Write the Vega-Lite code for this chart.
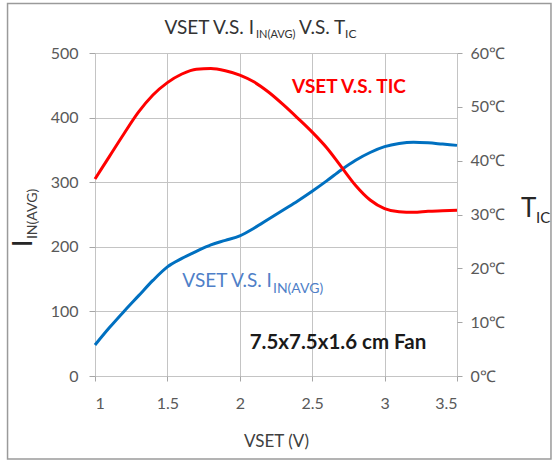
{
  "$schema": "https://vega.github.io/schema/vega-lite/v6.json",
  "width": 362,
  "height": 323,
  "autosize": {"type": "none"},
  "padding": {"left": 95, "top": 53, "right": 96, "bottom": 85},
  "background": "white",
  "config": {
    "view": {"stroke": null},
    "font": "Lato",
    "axis": {
      "labelFont": "Lato",
      "titleFont": "Lato",
      "labelColor": "#595959",
      "labelFontSize": 16,
      "gridColor": "#c4c4c4",
      "gridWidth": 1,
      "tickColor": "#a6a6a6",
      "domainColor": "#bfbfbf"
    }
  },
  "data": {
    "values": [
      {"vset": 1.0, "current": 48, "temp": 36.6},
      {"vset": 1.1, "current": 75, "temp": 40.8},
      {"vset": 1.2, "current": 100, "temp": 45.0},
      {"vset": 1.3, "current": 124, "temp": 49.0},
      {"vset": 1.4, "current": 148, "temp": 52.2},
      {"vset": 1.5, "current": 169, "temp": 54.5},
      {"vset": 1.6, "current": 182, "temp": 56.1},
      {"vset": 1.7, "current": 193, "temp": 57.0},
      {"vset": 1.8, "current": 203, "temp": 57.1},
      {"vset": 1.9, "current": 210, "temp": 56.7},
      {"vset": 2.0, "current": 217, "temp": 55.9},
      {"vset": 2.1, "current": 229, "temp": 54.6},
      {"vset": 2.2, "current": 243, "temp": 52.7},
      {"vset": 2.3, "current": 257, "temp": 50.4},
      {"vset": 2.4, "current": 271, "temp": 47.9},
      {"vset": 2.5, "current": 286, "temp": 45.3},
      {"vset": 2.6, "current": 302, "temp": 42.4},
      {"vset": 2.7, "current": 319, "temp": 38.9},
      {"vset": 2.8, "current": 334, "temp": 35.4},
      {"vset": 2.9, "current": 346, "temp": 32.7},
      {"vset": 3.0, "current": 355, "temp": 31.1},
      {"vset": 3.1, "current": 360, "temp": 30.5},
      {"vset": 3.2, "current": 362, "temp": 30.4},
      {"vset": 3.3, "current": 361, "temp": 30.6},
      {"vset": 3.4, "current": 359, "temp": 30.7},
      {"vset": 3.5, "current": 357, "temp": 30.8}
    ]
  },
  "layer": [
    {
      "layer": [
        {
          "mark": {"type": "line", "color": "#0070c0", "strokeWidth": 3, "interpolate": "monotone"},
          "encoding": {
            "x": {
              "field": "vset", "type": "quantitative",
              "scale": {"domain": [1, 3.5], "nice": false, "zero": false},
              "axis": {
                "values": [1, 1.5, 2, 2.5, 3, 3.5],
                "format": "~g",
                "grid": true,
                "domain": false,
                "tickSize": 5,
                "labelPadding": 14,
                "title": "VSET (V)",
                "titleFontSize": 17,
                "titleFontWeight": "normal",
                "titleColor": "#404040",
                "titlePadding": 22
              }
            },
            "y": {
              "field": "current", "type": "quantitative",
              "scale": {"domain": [0, 500], "nice": false},
              "axis": {
                "values": [0, 100, 200, 300, 400, 500],
                "grid": true,
                "domain": false,
                "tickSize": 6,
                "labelPadding": 11,
                "title": null
              }
            }
          }
        },
        {
          "data": {"values": [{}]},
          "mark": {"type": "rect", "fillOpacity": 0, "stroke": "#9a9a9a", "strokeWidth": 1.5},
          "encoding": {
            "x": {"datum": 0.396, "type": "quantitative", "scale": {"domain": [1, 3.5], "nice": false, "zero": false}},
            "x2": {"datum": 4.149},
            "y": {"datum": 576.6, "type": "quantitative", "scale": {"domain": [0, 500], "nice": false}},
            "y2": {"datum": -128.5}
          }
        },
        {
          "data": {"values": [{}]},
          "mark": {"type": "text", "text": "VSET V.S. I", "align": "right", "baseline": "alphabetic", "fontSize": 19, "color": "#333333"},
          "encoding": {
            "x": {"datum": 2.098, "type": "quantitative", "scale": {"domain": [1, 3.5], "nice": false, "zero": false}},
            "y": {"datum": 529.4, "type": "quantitative", "scale": {"domain": [0, 500], "nice": false}}
          }
        },
        {
          "data": {"values": [{}]},
          "mark": {"type": "text", "text": "IN(AVG)", "align": "left", "baseline": "alphabetic", "fontSize": 11, "color": "#333333"},
          "encoding": {
            "x": {"datum": 2.112, "type": "quantitative", "scale": {"domain": [1, 3.5], "nice": false, "zero": false}},
            "y": {"datum": 523.2, "type": "quantitative", "scale": {"domain": [0, 500], "nice": false}}
          }
        },
        {
          "data": {"values": [{}]},
          "mark": {"type": "text", "text": "V.S. T", "align": "left", "baseline": "alphabetic", "fontSize": 19, "color": "#333333"},
          "encoding": {
            "x": {"datum": 2.409, "type": "quantitative", "scale": {"domain": [1, 3.5], "nice": false, "zero": false}},
            "y": {"datum": 529.4, "type": "quantitative", "scale": {"domain": [0, 500], "nice": false}}
          }
        },
        {
          "data": {"values": [{}]},
          "mark": {"type": "text", "text": "IC", "align": "left", "baseline": "alphabetic", "fontSize": 12, "color": "#333333"},
          "encoding": {
            "x": {"datum": 2.727, "type": "quantitative", "scale": {"domain": [1, 3.5], "nice": false, "zero": false}},
            "y": {"datum": 523.2, "type": "quantitative", "scale": {"domain": [0, 500], "nice": false}}
          }
        },
        {
          "data": {"values": [{}]},
          "mark": {"type": "text", "text": "VSET V.S. I", "align": "right", "baseline": "alphabetic", "fontSize": 19, "color": "#4f7fc8"},
          "encoding": {
            "x": {"datum": 2.222, "type": "quantitative", "scale": {"domain": [1, 3.5], "nice": false, "zero": false}},
            "y": {"datum": 137.8, "type": "quantitative", "scale": {"domain": [0, 500], "nice": false}}
          }
        },
        {
          "data": {"values": [{}]},
          "mark": {"type": "text", "text": "IN(AVG)", "align": "left", "baseline": "alphabetic", "fontSize": 14, "color": "#4f7fc8"},
          "encoding": {
            "x": {"datum": 2.229, "type": "quantitative", "scale": {"domain": [1, 3.5], "nice": false, "zero": false}},
            "y": {"datum": 128.5, "type": "quantitative", "scale": {"domain": [0, 500], "nice": false}}
          }
        },
        {
          "data": {"values": [{}]},
          "mark": {"type": "text", "text": "VSET V.S. TIC", "align": "center", "baseline": "alphabetic", "fontSize": 19, "fontWeight": "bold", "color": "#ff0000"},
          "encoding": {
            "x": {"datum": 2.754, "type": "quantitative", "scale": {"domain": [1, 3.5], "nice": false, "zero": false}},
            "y": {"datum": 438.5, "type": "quantitative", "scale": {"domain": [0, 500], "nice": false}}
          }
        },
        {
          "data": {"values": [{}]},
          "mark": {"type": "text", "text": "7.5x7.5x1.6 cm Fan", "align": "center", "baseline": "alphabetic", "fontSize": 20.5, "fontWeight": "bold", "color": "#1a1a1a"},
          "encoding": {
            "x": {"datum": 2.678, "type": "quantitative", "scale": {"domain": [1, 3.5], "nice": false, "zero": false}},
            "y": {"datum": 41.8, "type": "quantitative", "scale": {"domain": [0, 500], "nice": false}}
          }
        },
        {
          "data": {"values": [{}]},
          "mark": {"type": "text", "text": "I", "align": "left", "baseline": "alphabetic", "angle": 270, "fontSize": 26, "color": "#262626"},
          "encoding": {
            "x": {"datum": 0.565, "type": "quantitative", "scale": {"domain": [1, 3.5], "nice": false, "zero": false}},
            "y": {"datum": 199.7, "type": "quantitative", "scale": {"domain": [0, 500], "nice": false}}
          }
        },
        {
          "data": {"values": [{}]},
          "mark": {"type": "text", "text": "IN(AVG)", "align": "left", "baseline": "alphabetic", "angle": 270, "fontSize": 14, "color": "#404040"},
          "encoding": {
            "x": {"datum": 0.5994, "type": "quantitative", "scale": {"domain": [1, 3.5], "nice": false, "zero": false}},
            "y": {"datum": 212, "type": "quantitative", "scale": {"domain": [0, 500], "nice": false}}
          }
        },
        {
          "data": {"values": [{}]},
          "mark": {"type": "text", "text": "T", "align": "left", "baseline": "alphabetic", "fontSize": 26, "color": "#262626"},
          "encoding": {
            "x": {"datum": 3.942, "type": "quantitative", "scale": {"domain": [1, 3.5], "nice": false, "zero": false}},
            "y": {"datum": 246.1, "type": "quantitative", "scale": {"domain": [0, 500], "nice": false}}
          }
        },
        {
          "data": {"values": [{}]},
          "mark": {"type": "text", "text": "IC", "align": "left", "baseline": "alphabetic", "fontSize": 15, "color": "#262626"},
          "encoding": {
            "x": {"datum": 4.046, "type": "quantitative", "scale": {"domain": [1, 3.5], "nice": false, "zero": false}},
            "y": {"datum": 236.8, "type": "quantitative", "scale": {"domain": [0, 500], "nice": false}}
          }
        }
      ]
    },
    {
      "mark": {"type": "line", "color": "#ff0000", "strokeWidth": 3, "interpolate": "monotone"},
      "encoding": {
        "x": {"field": "vset", "type": "quantitative", "scale": {"domain": [1, 3.5], "nice": false, "zero": false}},
        "y": {
          "field": "temp", "type": "quantitative",
          "scale": {"domain": [0, 60], "nice": false},
          "axis": {
            "orient": "right",
            "values": [0, 10, 20, 30, 40, 50, 60],
            "labelExpr": "datum.value + '℃'",
            "grid": false,
            "domain": false,
            "tickSize": 5,
            "labelPadding": 8,
            "title": null
          }
        }
      }
    }
  ],
  "resolve": {"scale": {"y": "independent"}}
}
